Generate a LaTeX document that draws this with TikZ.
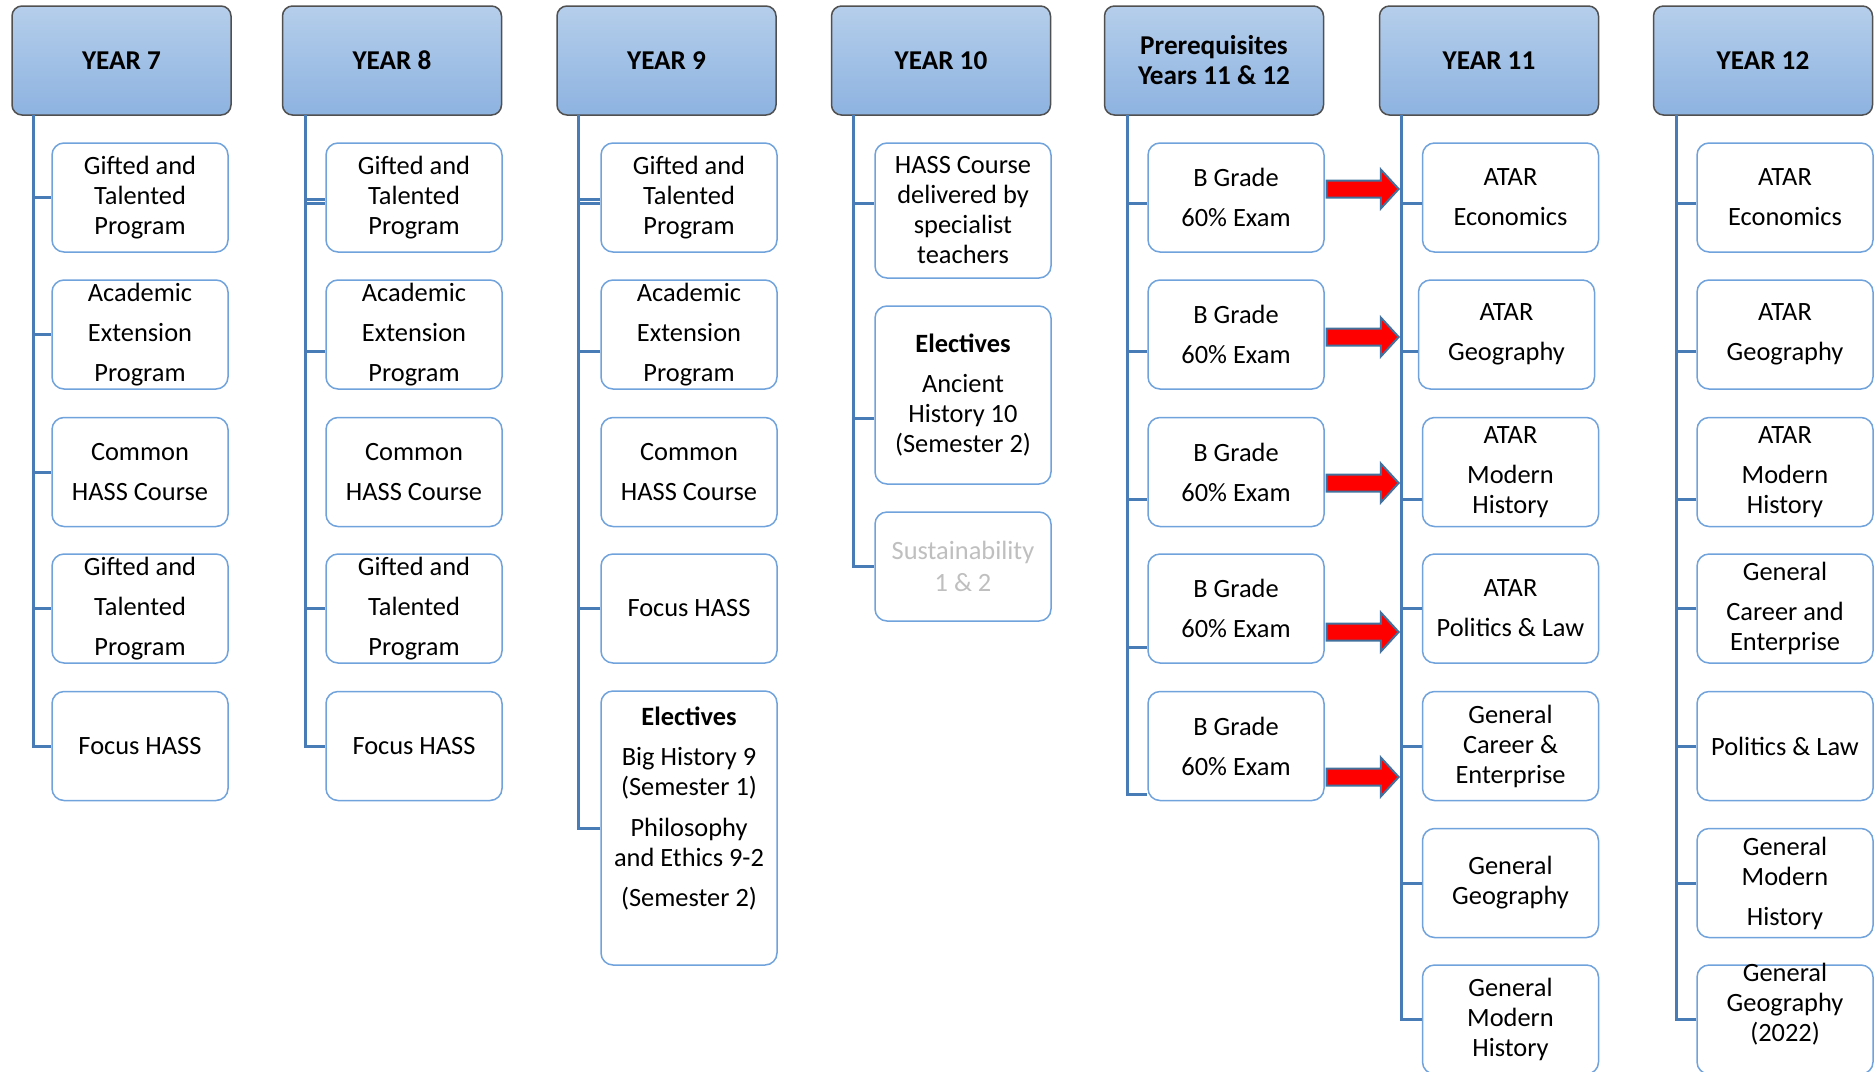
\documentclass[tikz,border=0pt]{standalone}
\usepackage{fontspec}
\setmainfont{Carlito}
\usetikzlibrary{shapes.arrows}

\definecolor{hdrtop}{RGB}{181,206,235}
\definecolor{hdrbot}{RGB}{141,179,224}
\definecolor{hdrline}{RGB}{80,80,80}
\definecolor{boxline}{RGB}{112,162,220}
\definecolor{spine}{RGB}{72,124,183}
\definecolor{arrline}{RGB}{65,113,156}
\definecolor{fadedtxt}{RGB}{191,191,191}

\newcommand{\coursefont}{\fontsize{13.2}{15}\selectfont}

\tikzset{
  yearhead/.style={draw=hdrline, line width=0.75pt, rounded corners=5pt, top color=hdrtop, bottom color=hdrbot,
    minimum width=109.5pt, minimum height=54.5pt, inner sep=0pt, align=center, font=\fontsize{13.6}{15}\selectfont\bfseries},
  course/.style={draw=boxline, line width=0.75pt, rounded corners=6pt, fill=white,
    minimum width=88pt, minimum height=54.5pt, inner sep=0pt, align=center, font=\coursefont},
  coursetext/.style={inner sep=0pt, align=center, font=\coursefont},
  branch/.style={draw=spine, line width=1.5pt},
  gradearrow/.style={single arrow, draw=arrline, line width=1pt, fill=red, minimum height=36pt,
    inner xsep=0pt, inner ysep=3.75pt, single arrow head extend=5.5pt, single arrow tip angle=95, anchor=tip}
}

\begin{document}
\begin{tikzpicture}[x=0.5pt,y=-0.5pt]
 \useasboundingbox (0,0) rectangle (1874,1071);
 % headers
 \node (hd 7) at (121.5,60.5) [yearhead] {YEAR 7};
 \node (hd 8) at (392,60.5) [yearhead] {YEAR 8};
 \node (hd 9) at (666.5,60.5) [yearhead] {YEAR 9};
 \node (hd 10) at (941,60.5) [yearhead] {YEAR 10};
 \node (hd pre) at (1214,60.5) [yearhead] {Prerequisites\\Years 11 \& 12};
 \node (hd 11) at (1489,60.5) [yearhead] {YEAR 11};
 \node (hd 12) at (1763,60.5) [yearhead] {YEAR 12};
 \coordinate (sp 7) at (33,115);
 \coordinate (sp 8) at (305,115);
 \coordinate (sp 9) at (578,115);
 \coordinate (sp 10) at (853,115);
 \coordinate (sp pre) at (1127,115);
 \coordinate (sp 11) at (1401,115);
 \coordinate (sp 12) at (1676,115);
 % year 7
 \node (y7 1) at (140,197.5) [course] {Gifted and\\Talented\\Program};
 \node (y7 2) at (140,334.5) [course] {Academic\\[5pt]Extension\\[5pt]Program};
 \node (y7 3) at (140,472) [course] {Common\\[5pt]HASS Course};
 \node (y7 4) at (140,608.5) [course] {Gifted and\\[5pt]Talented\\[5pt]Program};
 \node (y7 5) at (140,746) [course] {Focus HASS};
 % year 8
 \node (y8 1) at (414,197.5) [course] {Gifted and\\Talented\\Program};
 \node (y8 2) at (414,334.5) [course] {Academic\\[5pt]Extension\\[5pt]Program};
 \node (y8 3) at (414,472) [course] {Common\\[5pt]HASS Course};
 \node (y8 4) at (414,608.5) [course] {Gifted and\\[5pt]Talented\\[5pt]Program};
 \node (y8 5) at (414,746) [course] {Focus HASS};
 % year 9
 \node (y9 1) at (689,197.5) [course] {Gifted and\\Talented\\Program};
 \node (y9 2) at (689,334.5) [course] {Academic\\[5pt]Extension\\[5pt]Program};
 \node (y9 3) at (689,472) [course] {Common\\[5pt]HASS Course};
 \node (y9 4) at (689,608.5) [course] {Focus HASS};
 \node (y9 5) at (689,828) [course, minimum height=137pt] {};
 \node (y9 5 text) at ([yshift=-8pt]y9 5.north) [coursetext, anchor=north]
   {\textbf{Electives}\\[5pt]Big History 9\\(Semester 1)\\[5.5pt]Philosophy\\and Ethics 9-2\\[5pt](Semester 2)};
 % year 10
 \node (y10 1) at (963,210.5) [course, minimum height=67.5pt] {HASS Course\\delivered by\\specialist\\teachers};
 \node (y10 2) at (963,395) [course, minimum height=89pt] {\textbf{Electives}\\[5pt]Ancient\\History 10\\(Semester 2)};
 \node (y10 3) at (963,566.5) [course, text=fadedtxt] {Sustainability\\[1pt]1 \& 2};
 % prerequisites
 \node (pre 1) at (1236,197.5) [course] {B Grade\\[5pt]60\% Exam};
 \node (pre 2) at (1236,334.5) [course] {B Grade\\[5pt]60\% Exam};
 \node (pre 3) at (1236,472) [course] {B Grade\\[5pt]60\% Exam};
 \node (pre 4) at (1236,608.5) [course] {B Grade\\[5pt]60\% Exam};
 \node (pre 5) at (1236,746) [course] {B Grade\\[5pt]60\% Exam};
 % year 11
 \node (y11 1) at (1510.5,197.5) [course] {ATAR\\[5pt]Economics};
 \node (y11 2) at (1506.5,334.5) [course] {ATAR\\[5pt]Geography};
 \node (y11 3) at (1510.5,472) [course] {ATAR\\[5pt]Modern\\History};
 \node (y11 4) at (1510.5,608.5) [course] {ATAR\\[5pt]Politics \& Law};
 \node (y11 5) at (1510.5,746) [course] {General\\Career \&\\Enterprise};
 \node (y11 6) at (1510.5,883) [course] {General\\Geography};
 \node (y11 7) at (1510.5,1019.5) [course] {General\\Modern\\History};
 % year 12
 \node (y12 1) at (1785,197.5) [course] {ATAR\\[5pt]Economics};
 \node (y12 2) at (1785,334.5) [course] {ATAR\\[5pt]Geography};
 \node (y12 3) at (1785,472) [course] {ATAR\\[5pt]Modern\\History};
 \node (y12 4) at (1785,608.5) [course] {General\\[5pt]Career and\\Enterprise};
 \node (y12 5) at (1785,746) [course] {Politics \& Law};
 \node (y12 6) at (1785,883) [course] {General\\Modern\\[5pt]History};
 \node (y12 7) at (1785,1019.5) [course] {};
 \node (y12 7 text) at ([yshift=7.5pt]y12 7.center) [coursetext] {General\\Geography\\(2022)};
 % branches
 \draw[branch] (y7 1.west) -| (sp 7);
 \draw[branch] (y7 2.west) -| (sp 7);
 \draw[branch] (y7 3.west) -| (sp 7);
 \draw[branch] (y7 4.west) -| (sp 7);
 \draw[branch] (y7 5.west) -| (sp 7);
 \draw[branch] ([yshift=-0.75pt]y8 1.west) -| (sp 8);
 \draw[branch] ([yshift=-2.75pt]y8 1.west) -| (sp 8);
 \draw[branch] ([yshift=-8.25pt]y8 2.west) -| (sp 8);
 \draw[branch] (y8 4.west) -| (sp 8);
 \draw[branch] (y8 5.west) -| (sp 8);
 \draw[branch] ([yshift=-0.75pt]y9 1.west) -| (sp 9);
 \draw[branch] ([yshift=-2.75pt]y9 1.west) -| (sp 9);
 \draw[branch] ([yshift=-8.25pt]y9 2.west) -| (sp 9);
 \draw[branch] (y9 4.west) -| (sp 9);
 \draw[branch] (y9 5.west) -| (sp 9);
 \draw[branch] ([yshift=3.75pt]y10 1.west) -| (sp 10);
 \draw[branch] ([yshift=-11.5pt]y10 2.west) -| (sp 10);
 \draw[branch] (y10 3.west) -| (sp 10);
 \draw[branch] ([yshift=-2.75pt]pre 1.west) -| (sp pre);
 \draw[branch] ([yshift=-8.25pt]pre 2.west) -| (sp pre);
 \draw[branch] ([yshift=-13.5pt]pre 3.west) -| (sp pre);
 \draw[branch] ([yshift=-19.25pt]pre 4.west) -| (sp pre);
 \draw[branch] ([yshift=-24pt]pre 5.west) -| (sp pre);
 \draw[branch] ([yshift=-2.75pt]y11 1.west) -| (sp 11);
 \draw[branch] ([yshift=-8.25pt]y11 2.west) -| (sp 11);
 \draw[branch] ([yshift=-13.5pt]y11 3.west) -| (sp 11);
 \draw[branch] (y11 4.west) -| (sp 11);
 \draw[branch] (y11 5.west) -| (sp 11);
 \draw[branch] (y11 6.west) -| (sp 11);
 \draw[branch] (y11 7.west) -| (sp 11);
 \draw[branch] ([yshift=-2.75pt]y12 1.west) -| (sp 12);
 \draw[branch] ([yshift=-8.25pt]y12 2.west) -| (sp 12);
 \draw[branch] ([yshift=-13.5pt]y12 3.west) -| (sp 12);
 \draw[branch] (y12 4.west) -| (sp 12);
 \draw[branch] (y12 5.west) -| (sp 12);
 \draw[branch] (y12 6.west) -| (sp 12);
 \draw[branch] (y12 7.west) -| (sp 12);
 % grade arrows
 \node (arr 1) at (1400,189) [gradearrow] {};
 \node (arr 2) at (1400,337) [gradearrow] {};
 \node (arr 3) at (1400,483) [gradearrow] {};
 \node (arr 4) at (1400,632) [gradearrow] {};
 \node (arr 5) at (1400,777) [gradearrow] {};
\end{tikzpicture}
\end{document}
